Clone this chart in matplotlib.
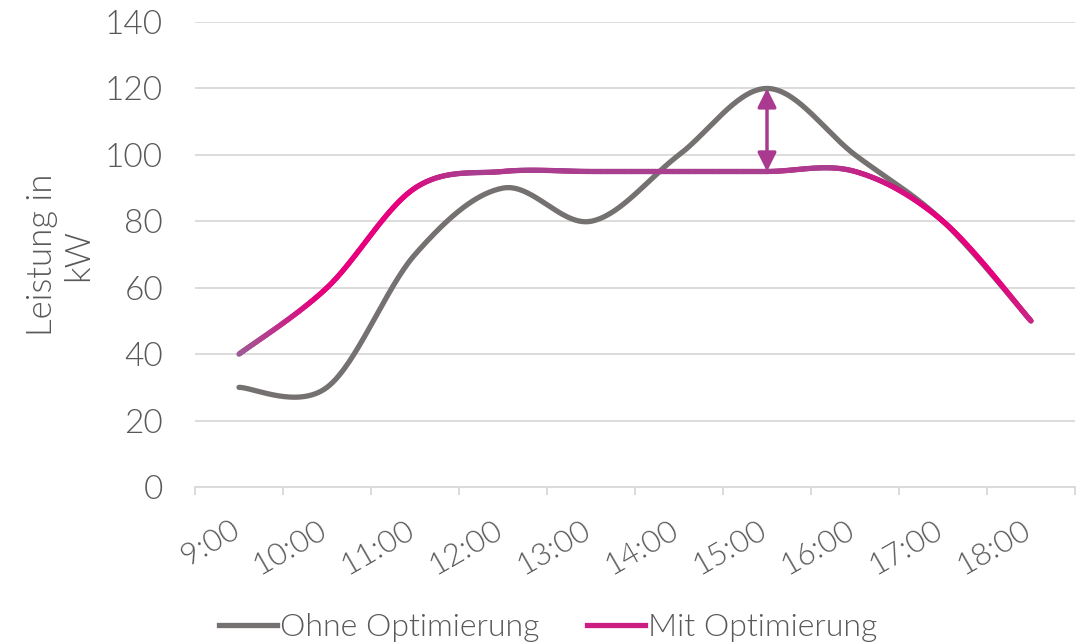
import numpy as np
import matplotlib
matplotlib.use('Agg')
import matplotlib.pyplot as plt
from matplotlib.collections import LineCollection
from matplotlib.lines import Line2D
from matplotlib.colors import to_rgb
import matplotlib.transforms as mtransforms

# ---- data ----
categories = ['9:00', '10:00', '11:00', '12:00', '13:00', '14:00', '15:00', '16:00', '17:00', '18:00']
ohne = [30, 30, 70, 90, 80, 100, 120, 100, 80, 50]
mit = [40, 60, 90, 95, 95, 95, 95, 95, 80, 50]
y_ticks = [0, 20, 40, 60, 80, 100, 120, 140]
series_names = ['Ohne Optimierung', 'Mit Optimierung']
arrow_cat = '15:00'
ylabel = 'Leistung in\nkW'

FONT = 'Lato'
FW = 300
TXT = '#595959'
GREY = '#767171'
PURPLE = '#A8408F'
PINK = '#E6007E'
START = '#9E5C96'


def smooth(y, n=60):
    x = np.arange(len(y), dtype=float)
    P = np.column_stack([x, np.asarray(y, dtype=float)])
    out = []
    for i in range(len(P) - 1):
        p0, p3 = P[i], P[i + 1]
        pm = P[i - 1] if i > 0 else P[i]
        pp = P[i + 2] if i + 2 < len(P) else P[i + 1]
        c1 = p0 + (p3 - pm) / 6
        c2 = p3 - (pp - p0) / 6
        t = np.linspace(0, 1, n)[:, None]
        seg = (1 - t) ** 3 * p0 + 3 * (1 - t) ** 2 * t * c1 + 3 * (1 - t) * t ** 2 * c2 + t ** 3 * p3
        out.append(seg if i == 0 else seg[1:])
    return np.vstack(out)


fig = plt.figure(figsize=(10.82, 6.43), dpi=100)
ax = fig.add_axes([195 / 1082, 1 - 487 / 643, 880 / 1082, 465 / 643])
ax.set_xlim(-0.5, len(categories) - 0.5)
ax.set_ylim(0, 140)

# grid
ax.set_yticks(y_ticks)
ax.set_yticklabels([str(v) for v in y_ticks], fontfamily=FONT, fontweight=FW, fontsize=24, color=TXT)
ax.tick_params(axis='y', length=0, pad=23)
ax.yaxis.grid(True, color='#D9D9D9', lw=1.3)
ax.set_axisbelow(True)
for s in ['left', 'right', 'top']:
    ax.spines[s].set_visible(False)
ax.spines['bottom'].set_color('#D9D9D9')
ax.spines['bottom'].set_linewidth(1.3)

# x ticks at category boundaries
ax.set_xticks(np.arange(-0.5, len(categories), 1.0))
ax.set_xticklabels([])
ax.tick_params(axis='x', length=6, width=1.3, color='#D9D9D9', direction='out')

# rotated category labels
trans = mtransforms.blended_transform_factory(ax.transData, ax.transAxes)
for i, c in enumerate(categories):
    off = mtransforms.ScaledTranslation(-2 / 100, -41 / 100, fig.dpi_scale_trans)
    ax.text(i, 0, c, transform=trans + off, rotation=30, ha='right', va='center',
            rotation_mode='anchor', fontfamily=FONT, fontweight=FW, fontsize=22.5, color=TXT)

# Ohne line
po = smooth(ohne)
ax.plot(po[:, 0], po[:, 1], color=GREY, lw=3.8, solid_capstyle='round', zorder=3)

# Mit line with slope-based gradient
pm = smooth(mit)
segs = np.stack([pm[:-1], pm[1:]], axis=1)
disp = ax.transData.transform(pm)
d = np.diff(disp, axis=0)
ang = np.degrees(np.arctan2(np.abs(d[:, 1]), np.abs(d[:, 0])))
tt = np.clip(ang / 40, 0, 1)
c_flat = np.array(to_rgb(PURPLE))
c_steep = np.array(to_rgb(PINK))
cols = c_flat[None, :] * (1 - tt[:, None]) + c_steep[None, :] * tt[:, None]
xs = (pm[:-1, 0] + pm[1:, 0]) / 2
c_start = np.array(to_rgb(START))
w0 = np.clip(1 - xs / 0.9, 0, 1)[:, None]
cols = cols * (1 - w0) + c_start[None, :] * w0
c_end = np.array(to_rgb('#C0348A'))
w1 = np.clip((xs - 8.6) / 0.4, 0, 1)[:, None] * 0.7
cols = cols * (1 - w1) + c_end[None, :] * w1
lc = LineCollection(segs, colors=cols, linewidths=3.8, capstyle='round', zorder=4)
ax.add_collection(lc)

# arrow
ai = categories.index(arrow_cat)
ax.annotate('', xy=(ai, mit[ai]), xytext=(ai, ohne[ai]),
            arrowprops=dict(arrowstyle='<|-|>', color='#A93A8F', lw=2.5,
                            mutation_scale=28, shrinkA=0, shrinkB=0), zorder=5)

# y label
fig.text(60 / 1082, 1 - 255 / 643, ylabel, rotation=90, ha='center', va='center',
         multialignment='center', fontfamily=FONT, fontweight=FW, fontsize=25, color=TXT,
         linespacing=1.15)

# legend
handles = [Line2D([], [], color=GREY, lw=3.8),
           Line2D([], [], color='#CC1E82', lw=3.8)]
leg = fig.legend(handles, series_names, loc='center', bbox_to_anchor=(548 / 1082, 1 - 628 / 643),
                 ncol=2, frameon=False, handlelength=1.82, handletextpad=0.09, columnspacing=1.48,
                 prop={'family': FONT, 'weight': FW, 'size': 23})
for t in leg.get_texts():
    t.set_color(TXT)

fig.savefig('out.png', dpi=100)
